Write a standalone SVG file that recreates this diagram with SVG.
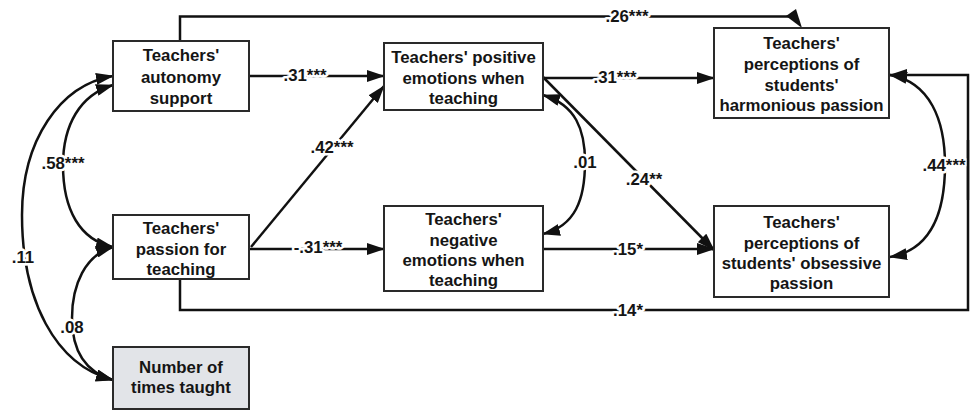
<svg xmlns="http://www.w3.org/2000/svg" width="970" height="410" viewBox="0 0 970 410">
<style>
.box{fill:#fff;stroke:#2a2a2a;stroke-width:2}
.gray{fill:#e2e4e8}
.t{font-family:"Liberation Sans",Arial,sans-serif;font-weight:bold;font-size:16.8px;fill:#151515;text-anchor:middle}
.lbl{font-family:"Liberation Sans",Arial,sans-serif;font-weight:bold;font-size:16.8px;fill:#151515;text-anchor:middle;stroke:#fff;stroke-width:5;stroke-linejoin:round;paint-order:stroke}
.c{fill:none;stroke:#111;stroke-width:2.5}
</style>
<defs>
<marker id="a" viewBox="0 0 18 12" refX="17" refY="6" markerWidth="18" markerHeight="12" orient="auto-start-reverse" markerUnits="userSpaceOnUse">
<path d="M0,0 L18,6 L0,12 z" fill="#111"/>
</marker>
</defs>
<rect width="970" height="410" fill="#fff"/>

<g id="connectors">
<path class="c" d="M180,41 V16.5 H790"/>
<polygon points="786,16 796,9 802,28" fill="#111"/>
<path class="c" d="M249,76 H384" marker-end="url(#a)"/>
<path class="c" d="M251,247 L384,86" marker-end="url(#a)"/>
<path class="c" d="M249,249 H384" marker-end="url(#a)"/>
<path class="c" d="M543,78 H714" marker-end="url(#a)"/>
<path class="c" d="M543,77 L714,250" marker-end="url(#a)"/>
<path class="c" d="M543,249 H714" marker-end="url(#a)"/>
<path class="c" d="M180,279 V310 H968 V75 H890" marker-end="url(#a)"/>
<path class="c" d="M543,95 C576,105 585,130 585,162 C585,200 575,226 543,234" marker-start="url(#a)" marker-end="url(#a)"/>
<path class="c" d="M890,75 C930,82 945,120 945,165 C945,215 930,250 890,257" marker-start="url(#a)" marker-end="url(#a)"/>
<path class="c" d="M113,85 C80,95 63,125 63,165 C63,210 80,240 113,247" marker-start="url(#a)" marker-end="url(#a)"/>
<path class="c" d="M113,76 C60,85 22,140 22,215 C22,300 55,365 113,380" marker-start="url(#a)" marker-end="url(#a)"/>
<path class="c" d="M113,247 C85,255 72,285 72,318 C72,350 85,372 113,380" marker-start="url(#a)" marker-end="url(#a)"/>
<text class="lbl" x="627" y="22">.26***</text>
<text class="lbl" x="305" y="81">.31***</text>
<text class="lbl" x="615" y="83">.31***</text>
<text class="lbl" x="332" y="153">.42***</text>
<text class="lbl" x="63" y="169">.58***</text>
<text class="lbl" x="318" y="253">-.31***</text>
<text class="lbl" x="585" y="168">.01</text>
<text class="lbl" x="644" y="185">.24**</text>
<text class="lbl" x="944" y="171">.44***</text>
<path class="c" d="M968,140 V200"/>
<text class="lbl" x="628" y="255">.15*</text>
<text class="lbl" x="628" y="316">.14*</text>
<text class="lbl" x="23" y="263">.11</text>
<text class="lbl" x="72" y="333">.08</text>
</g>

<g id="autonomy">
<rect class="box" x="113" y="41" width="136" height="70"/>
<text class="t" x="181" y="61">Teachers'</text>
<text class="t" x="181" y="83">autonomy</text>
<text class="t" x="181" y="104">support</text>
</g>
<g id="passion">
<rect class="box" x="113" y="215" width="136" height="64"/>
<text class="t" x="181" y="234">Teachers'</text>
<text class="t" x="181" y="255">passion for</text>
<text class="t" x="181" y="275">teaching</text>
</g>
<g id="times">
<rect class="box gray" x="113" y="347" width="136" height="62"/>
<text class="t" x="181" y="373">Number of</text>
<text class="t" x="181" y="393">times taught</text>
</g>
<g id="positive">
<rect class="box" x="384" y="43" width="159" height="67"/>
<text class="t" x="463.5" y="63">Teachers' positive</text>
<text class="t" x="463.5" y="84">emotions when</text>
<text class="t" x="463.5" y="104">teaching</text>
</g>
<g id="negative">
<rect class="box" x="384" y="206" width="159" height="85"/>
<text class="t" x="463.5" y="225">Teachers'</text>
<text class="t" x="463.5" y="246">negative</text>
<text class="t" x="463.5" y="266">emotions when</text>
<text class="t" x="463.5" y="286">teaching</text>
</g>
<g id="harmonious">
<rect class="box" x="714" y="28" width="175" height="90"/>
<text class="t" x="801.5" y="49">Teachers'</text>
<text class="t" x="801.5" y="70">perceptions of</text>
<text class="t" x="801.5" y="91">students'</text>
<text class="t" x="801.5" y="111">harmonious passion</text>
</g>
<g id="obsessive">
<rect class="box" x="714" y="206" width="175" height="91"/>
<text class="t" x="801.5" y="228">Teachers'</text>
<text class="t" x="801.5" y="249">perceptions of</text>
<text class="t" x="801.5" y="269">students' obsessive</text>
<text class="t" x="801.5" y="289">passion</text>
</g>
</svg>
